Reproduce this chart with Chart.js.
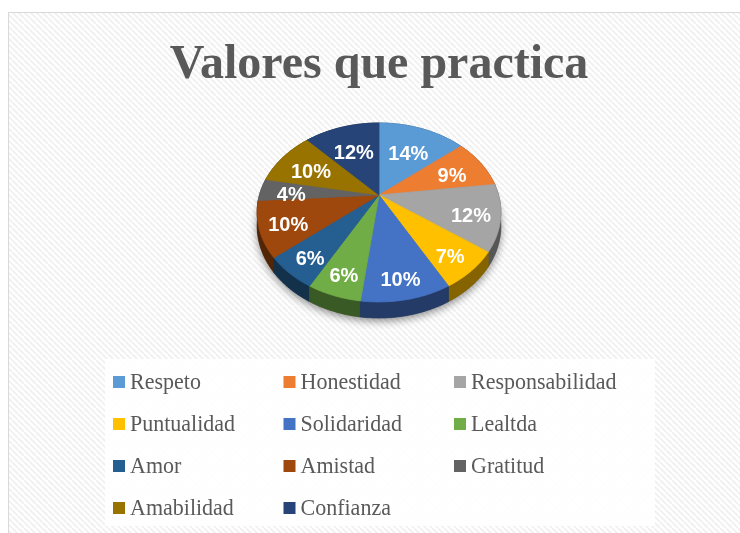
<!DOCTYPE html>
<html><head><meta charset="utf-8">
<script src="https://cdn.jsdelivr.net/npm/chart.js@4/dist/chart.umd.min.js"></script>
<style>html,body{margin:0;padding:0;background:#fff;}canvas{display:block;}</style>
</head><body><canvas id="c" width="740" height="533"></canvas>
<script>
const TITLE = 'Valores que practica';
const CATEGORIES = ['Respeto','Honestidad','Responsabilidad','Puntualidad','Solidaridad','Lealtda','Amor','Amistad','Gratitud','Amabilidad','Confianza'];
const VALUES = [14, 9, 12, 7, 10, 6, 6, 10, 4, 10, 12];
const COLORS = ['#5B9BD5','#ED7D31','#A5A5A5','#FFC000','#4472C4','#70AD47','#255E91','#9E480E','#636363','#997300','#264478'];

// 3D look (relative to the pie radius computed by Chart.js)
const TILT = 0.72, PERSP = 0.1955, DEPTH = 0.108, APEX_SHIFT = 0.2135;

function shade(hex, f){
  const n = parseInt(hex.slice(1),16);
  const r = Math.round(((n>>16)&255)*f), g = Math.round(((n>>8)&255)*f), b = Math.round((n&255)*f);
  return `rgb(${r},${g},${b})`;
}
function geom(chart){
  const meta = chart.getDatasetMeta(0);
  const a0 = meta.data[0];
  const R = a0.outerRadius;
  return {meta, R, cx: a0.x, cy0: a0.y - APEX_SHIFT*R};
}
function proj(g, ang, r, h){
  const u = r*Math.cos(ang), w = -r*Math.sin(ang);
  const den = 1 + PERSP*w;
  return [g.cx + g.R*u/den, g.cy0 - TILT*g.R*w/den + DEPTH*g.R*h/den];
}
function arcPts(g, s, e, h){
  const pts = [];
  const n = Math.max(2, Math.ceil((e-s)/(Math.PI/180)));
  for (let i=0;i<=n;i++) pts.push(proj(g, s+(e-s)*i/n, 1, h));
  return pts;
}
let hatch = null;
function getHatch(ctx){
  if (hatch) return hatch;
  const c = document.createElement('canvas'); c.width = 6; c.height = 6;
  const x = c.getContext('2d');
  x.fillStyle = '#ffffff'; x.fillRect(0,0,6,6);
  x.strokeStyle = '#f1f1f1'; x.lineWidth = 2;
  for (let k=-1;k<=1;k++){ x.beginPath(); x.moveTo(k*6,0); x.lineTo(k*6+6,6); x.stroke(); }
  hatch = ctx.createPattern(c,'repeat');
  return hatch;
}

const pie3d = {
  id: 'pie3d',
  beforeDraw(chart){
    const ctx = chart.ctx;
    ctx.save();
    ctx.fillStyle = '#ffffff'; ctx.fillRect(0,0,chart.width,chart.height);
    ctx.fillStyle = getHatch(ctx); ctx.fillRect(8,13,chart.width,chart.height);
    ctx.strokeStyle = '#d9d9d9'; ctx.lineWidth = 1; ctx.strokeRect(8.5,12.5,chart.width+10,chart.height+10);
    ctx.fillStyle = 'rgba(255,255,255,0.92)'; ctx.fillRect(105,359,550,167);
    ctx.restore();
  },
  beforeDatasetsDraw(chart){
    const ctx = chart.ctx, g = geom(chart);
    const arcs = g.meta.data;
    ctx.save();
    ctx.save();
    ctx.shadowColor = 'rgba(0,0,0,0.45)'; ctx.shadowBlur = 9; ctx.shadowOffsetY = 3;
    ctx.fillStyle = '#555';
    ctx.beginPath();
    arcPts(g, 0, Math.PI*2, 1).forEach((p,i)=> i?ctx.lineTo(p[0],p[1]):ctx.moveTo(p[0],p[1]));
    ctx.closePath(); ctx.fill();
    ctx.restore();
    const order = arcs.map((a,i)=>i).sort((i,j)=>{
      const mi=(arcs[i].startAngle+arcs[i].endAngle)/2, mj=(arcs[j].startAngle+arcs[j].endAngle)/2;
      return Math.sin(mi)-Math.sin(mj);
    });
    for (const i of order){
      const a = arcs[i];
      const top = arcPts(g, a.startAngle, a.endAngle, 0);
      const bot = arcPts(g, a.startAngle, a.endAngle, 1).reverse();
      ctx.beginPath();
      top.concat(bot).forEach((p,k)=> k?ctx.lineTo(p[0],p[1]):ctx.moveTo(p[0],p[1]));
      ctx.closePath();
      const col = shade(COLORS[i], 0.52);
      ctx.fillStyle = col; ctx.strokeStyle = col; ctx.lineWidth = 0.8;
      ctx.fill(); ctx.stroke();
    }
    arcs.forEach((a,i)=>{
      const c = proj(g, 0, 0, 0);
      const pts = arcPts(g, a.startAngle, a.endAngle, 0);
      ctx.beginPath(); ctx.moveTo(c[0],c[1]);
      pts.forEach(p=>ctx.lineTo(p[0],p[1]));
      ctx.closePath();
      ctx.fillStyle = COLORS[i]; ctx.strokeStyle = COLORS[i]; ctx.lineWidth = 0.8;
      ctx.fill(); ctx.stroke();
    });
    ctx.restore();
    return false;
  },
  afterDraw(chart){
    const ctx = chart.ctx, g = geom(chart);
    const total = VALUES.reduce((s,v)=>s+v,0);
    ctx.save();
    ctx.fillStyle = '#ffffff';
    ctx.font = 'bold 20px "Liberation Sans", Arial, sans-serif';
    ctx.textAlign = 'center'; ctx.textBaseline = 'middle';
    g.meta.data.forEach((a,i)=>{
      const m = (a.startAngle+a.endAngle)/2;
      const w = -Math.sin(m);
      const r = 0.75 - 0.12*Math.max(w,0) + 0.06*Math.max(-w,0);
      const p = proj(g, m, r, 0);
      ctx.fillText(Math.round(VALUES[i]/total*100)+'%', p[0], p[1]+0.035*g.R);
    });
    ctx.font = '22px "Liberation Serif", "Times New Roman", serif';
    ctx.textAlign = 'left';
    CATEGORIES.forEach((name,i)=>{
      const col = i%3, row = Math.floor(i/3);
      const x = 113 + col*170.5, y = 382 + row*42;
      ctx.fillStyle = COLORS[i]; ctx.fillRect(x, y-6, 12, 12);
      ctx.save(); ctx.translate(x+17, y+1); ctx.scale(1, 1.09);
      ctx.fillStyle = '#595959'; ctx.fillText(name, 0, 0);
      ctx.restore();
    });
    ctx.restore();
  }
};

new Chart(document.getElementById('c'), {
  type: 'pie',
  data: { labels: CATEGORIES, datasets: [{ data: VALUES, backgroundColor: COLORS, borderWidth: 0 }] },
  options: {
    responsive: false, animation: false,
    layout: { padding: { top: 0, left: 18, right: 0, bottom: 193 } },
    plugins: {
      legend: { display: false },
      tooltip: { enabled: false },
      title: { display: true, text: TITLE, color: '#595959',
               font: { family: '"Liberation Serif", "Times New Roman", serif', size: 48, weight: 'bold', lineHeight: 1.2 },
               padding: { top: 36.5, bottom: 6.9 } }
    }
  },
  plugins: [pie3d]
});
</script></body></html>
